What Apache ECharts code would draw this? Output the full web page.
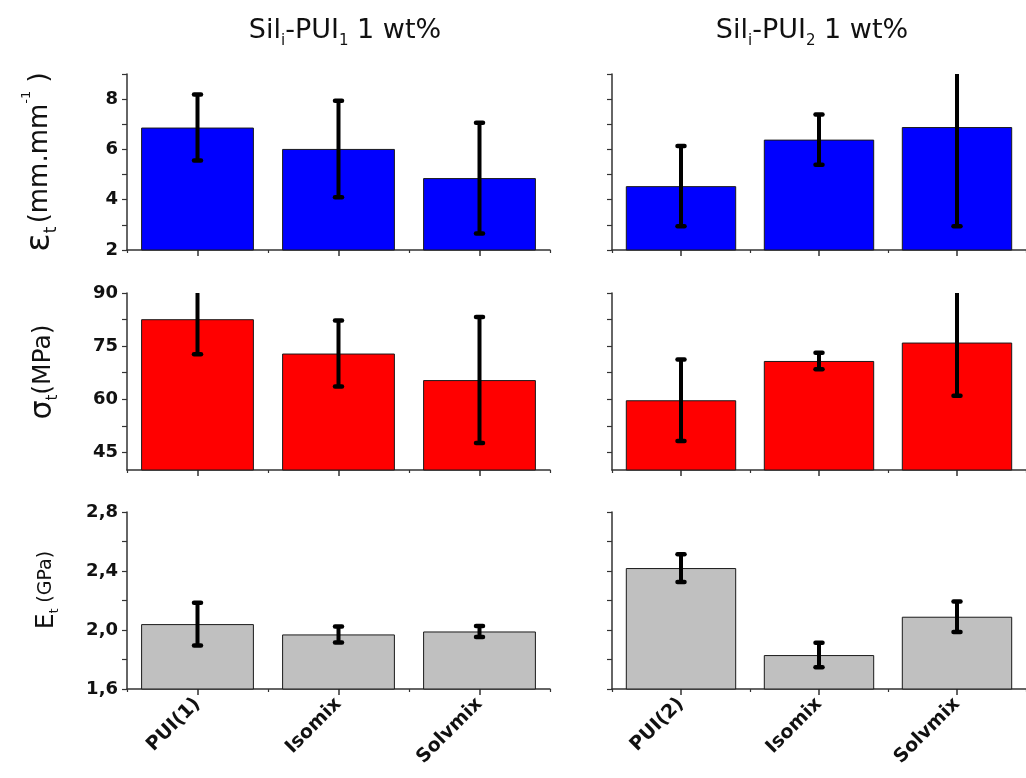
<!DOCTYPE html>
<html>
<head>
<meta charset="utf-8">
<script src="https://cdn.jsdelivr.net/npm/echarts@6/dist/echarts.min.js"></script>
<style>
html,body{margin:0;padding:0;background:#fff;}
#chart{width:1026px;height:778px;}
</style>
</head>
<body>
<div id="chart"></div>
<script>
// ---- data ----
const categoriesLeft = ['PUI(1)', 'Isomix', 'Solvmix'];
const categoriesRight = ['PUI(2)', 'Isomix', 'Solvmix'];

const strainLeft = [6.87, 6.02, 4.86];
const strainLeftErr = [1.31, 1.92, 2.20];
const strainRight = [4.54, 6.39, 6.89];
const strainRightErr = [1.60, 1.00, 3.95];

const stressLeft = [82.6, 72.9, 65.4];
const stressLeftErr = [9.9, 9.3, 17.8];
const stressRight = [59.7, 70.8, 76.0];
const stressRightErr = [11.5, 2.35, 15.0];

const modulusLeft = [2.04, 1.97, 1.99];
const modulusLeftErr = [0.145, 0.054, 0.037];
const modulusRight = [2.42, 1.83, 2.09];
const modulusRightErr = [0.094, 0.083, 0.104];

const strainTicks = [2, 3, 4, 5, 6, 7, 8, 9];
const strainLabels = [2, 4, 6, 8];
const stressTicks = [45, 52.5, 60, 67.5, 75, 82.5, 90];
const stressLabels = [45, 60, 75, 90];
const modulusTicks = [1.6, 1.8, 2.0, 2.2, 2.4, 2.6, 2.8];
const modulusLabels = [1.6, 2.0, 2.4, 2.8];

const strainRange = [2, 9];
const stressRange = [40, 90];
const modulusRange = [1.6, 2.8];

// ---- layout ----
const FONT = 'DejaVu Sans';
const colX = [127, 612];
const rowY = [74, 293, 512];
const gridW = 423;
const rowH = [176, 177, 177];

const grids = [];
for (let r = 0; r < 3; r++) for (let c = 0; c < 2; c++) {
  grids.push({left: colX[c], top: rowY[r], width: gridW, height: rowH[r]});
}

const rows = [
  {vals: [strainLeft, strainRight], errs: [strainLeftErr, strainRightErr], ticks: strainTicks, labels: strainLabels, range: strainRange, color: '#0000ff', fmt: v => String(v)},
  {vals: [stressLeft, stressRight], errs: [stressLeftErr, stressRightErr], ticks: stressTicks, labels: stressLabels, range: stressRange, color: '#ff0000', fmt: v => String(v)},
  {vals: [modulusLeft, modulusRight], errs: [modulusLeftErr, modulusRightErr], ticks: modulusTicks, labels: modulusLabels, range: modulusRange, color: '#c0c0c0', fmt: v => v.toFixed(1).replace('.', ',')}
];

const xAxis = [], yAxis = [], series = [];
const axisColor = '#333';

rows.forEach((row, r) => {
  [0, 1].forEach(c => {
    const g = r * 2 + c;
    const cats = c === 0 ? categoriesLeft : categoriesRight;
    // main category axis (ticks at centres, labels on bottom row)
    xAxis.push({
      type: 'category', gridIndex: g, data: cats, position: 'bottom',
      axisLine: {show: true, lineStyle: {color: axisColor, width: 1.5}},
      axisTick: {show: true, alignWithLabel: true, length: 6, lineStyle: {color: axisColor, width: 1.5}},
      axisLabel: {show: r === 2, rotate: 45, margin: 12, fontFamily: FONT, fontWeight: 'bold', fontSize: 19, color: '#111'},
      splitLine: {show: false}
    });
    // boundary ticks
    xAxis.push({
      type: 'category', gridIndex: g, data: cats, position: 'bottom',
      axisLine: {show: false},
      axisTick: {show: true, alignWithLabel: false, length: 3, lineStyle: {color: axisColor, width: 1.2}},
      axisLabel: {show: false},
      splitLine: {show: false}
    });
    yAxis.push({
      type: 'value', gridIndex: g, min: row.range[0], max: row.range[1],
      axisLine: {show: true, lineStyle: {color: axisColor, width: 1.5}},
      axisTick: {show: true, length: 5, customValues: row.ticks, lineStyle: {color: axisColor, width: 1.2}},
      axisLabel: {show: c === 0, customValues: row.labels, margin: 9, fontFamily: FONT, fontWeight: 'bold', fontSize: 18, color: '#111', formatter: row.fmt},
      splitLine: {show: false}
    });
    const vals = row.vals[c], errs = row.errs[c];
    series.push({
      type: 'bar', xAxisIndex: g * 2, yAxisIndex: g, barWidth: '80%',
      data: vals,
      itemStyle: {color: row.color, borderColor: '#1a1a1a', borderWidth: 1},
      silent: true, animation: false, z: 2
    });
    const yMin = row.range[0], yMax = row.range[1];
    series.push({
      type: 'custom', xAxisIndex: g * 2, yAxisIndex: g, z: 5, animation: false, silent: true,
      data: vals.map((v, i) => [i, v, errs[i]]),
      encode: {x: 0, y: 1},
      renderItem: function (params, api) {
        const i = api.value(0), m = api.value(1), e = api.value(2);
        let hi = m + e, lo = m - e;
        const hiClip = hi > yMax, loClip = lo < yMin;
        hi = Math.min(hi, yMax); lo = Math.max(lo, yMin);
        const pHi = api.coord([i, hi]);
        const pLo = api.coord([i, lo]);
        const capW = 3.5;
        const st = {stroke: '#000', lineWidth: 4, lineCap: 'butt'};
        const capSt = {stroke: '#000', lineWidth: 4.5, lineCap: 'round'};
        const children = [{type: 'line', shape: {x1: pHi[0], y1: pHi[1], x2: pLo[0], y2: pLo[1]}, style: st}];
        if (!hiClip) children.push({type: 'line', shape: {x1: pHi[0] - capW, y1: pHi[1], x2: pHi[0] + capW, y2: pHi[1]}, style: capSt});
        if (!loClip) children.push({type: 'line', shape: {x1: pLo[0] - capW, y1: pLo[1], x2: pLo[0] + capW, y2: pLo[1]}, style: capSt});
        return {type: 'group', children: children};
      }
    });
  });
});

function titleText(sub) {
  return '{m|Sil}{s|i}{m|-PUI}{s|' + sub + '}{m| 1 wt%}';
}
const titleRich = {
  m: {fontSize: 27, fontFamily: FONT, lineHeight: 36, verticalAlign: 'middle', fill: '#111'},
  s: {fontSize: 15, fontFamily: FONT, lineHeight: 15, verticalAlign: 'bottom', fill: '#111'}
};

const graphic = [
  {type: 'text', x: 345, y: 31, style: {text: titleText('1'), rich: titleRich, align: 'center', verticalAlign: 'middle', fill: '#111'}},
  {type: 'text', x: 812, y: 31, style: {text: titleText('2'), rich: titleRich, align: 'center', verticalAlign: 'middle', fill: '#111'}},
  {type: 'text', x: 40, y: 162, rotation: Math.PI / 2, style: {
    text: '{g|ε}{s|t} {m|(mm.mm}{p|-1}{m| )}', align: 'center', verticalAlign: 'middle', fill: '#111',
    rich: {
      g: {fontSize: 34, fontFamily: FONT, lineHeight: 40, verticalAlign: 'middle', fill: '#111'},
      s: {fontSize: 17, fontFamily: FONT, lineHeight: 17, verticalAlign: 'bottom', fill: '#111'},
      m: {fontSize: 26, fontFamily: FONT, lineHeight: 30, verticalAlign: 'middle', fill: '#111'},
      p: {fontSize: 13, fontFamily: FONT, lineHeight: 13, verticalAlign: 'top', fill: '#111'}
    }
  }},
  {type: 'text', x: 43, y: 372, rotation: Math.PI / 2, style: {
    text: '{g|σ}{s|t}{m|(MPa)}', align: 'center', verticalAlign: 'middle', fill: '#111',
    rich: {
      g: {fontSize: 30, fontFamily: FONT, lineHeight: 36, verticalAlign: 'middle', fill: '#111'},
      s: {fontSize: 15, fontFamily: FONT, lineHeight: 15, verticalAlign: 'bottom', fill: '#111'},
      m: {fontSize: 25, fontFamily: FONT, lineHeight: 30, verticalAlign: 'middle', fill: '#111'}
    }
  }},
  {type: 'text', x: 46, y: 590, rotation: Math.PI / 2, style: {
    text: '{g|E}{s|t}{m| (GPa)}', align: 'center', verticalAlign: 'middle', fill: '#111',
    rich: {
      g: {fontSize: 25, fontFamily: FONT, lineHeight: 30, verticalAlign: 'middle', fill: '#111'},
      s: {fontSize: 12, fontFamily: FONT, lineHeight: 12, verticalAlign: 'bottom', fill: '#111'},
      m: {fontSize: 19, fontFamily: FONT, lineHeight: 24, verticalAlign: 'middle', fill: '#111'}
    }
  }}
];

const chart = echarts.init(document.getElementById('chart'), null, {renderer: 'canvas'});
chart.setOption({
  animation: false,
  backgroundColor: '#fff',
  textStyle: {fontFamily: FONT},
  grid: grids,
  xAxis: xAxis,
  yAxis: yAxis,
  series: series,
  graphic: graphic
});
</script>
</body>
</html>
